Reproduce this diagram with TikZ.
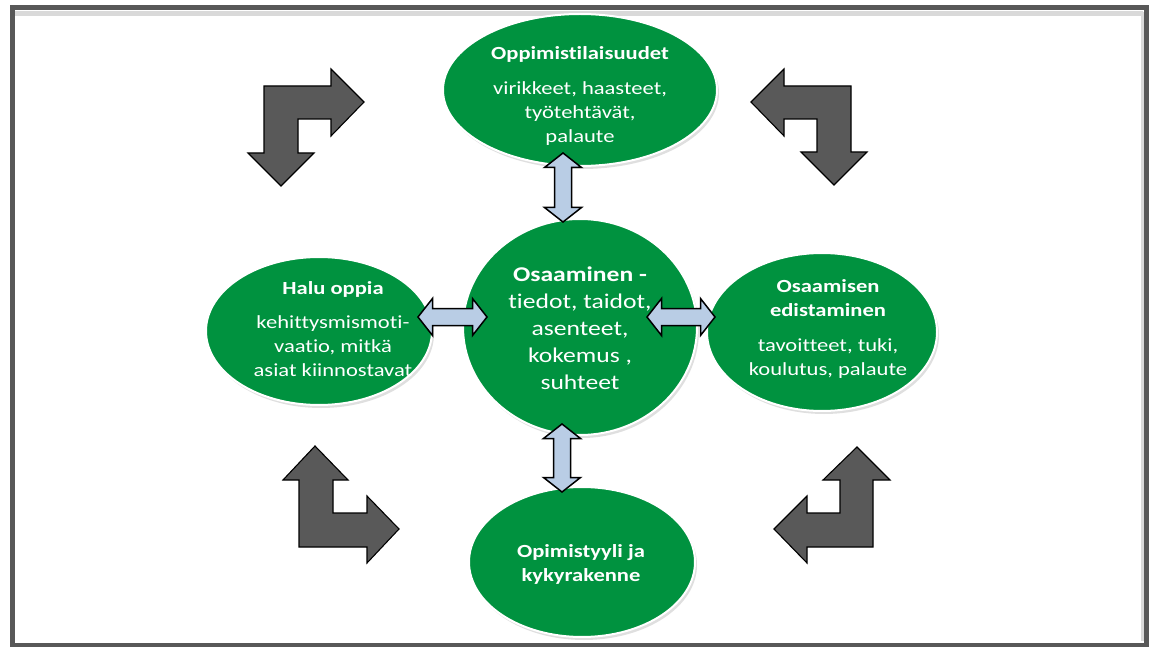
\documentclass[tikz,border=0pt]{standalone}
\usepackage{fontspec}
\setmainfont{Carlito}[FakeStretch=1.22, Ligatures={NoCommon}]
\usetikzlibrary{shapes.geometric,shadows}
\definecolor{bubblegreen}{RGB}{0,146,63}
\definecolor{arrowgray}{RGB}{89,89,89}
\definecolor{framegray}{RGB}{88,88,88}
\definecolor{lightblue}{RGB}{185,205,229}
\tikzset{
  bubble/.style={ellipse, fill=bubblegreen, draw=white, line width=2pt, inner sep=0pt,
    drop shadow={opacity=0.25, shadow xshift=2pt, shadow yshift=-3pt}},
  bubbletext/.style={text=white, align=center, inner sep=0pt,
    font=\fontsize{18.5}{24}\selectfont},
  bigtext/.style={text=white, align=center, inner sep=0pt,
    font=\fontsize{21}{27}\selectfont},
  bentarrow/.style={fill=arrowgray, draw=black, line width=1.1pt, line join=miter},
  blockblue/.style={fill=lightblue, draw=black, line width=1.5pt, line join=miter},
}
\newcommand\vdblarrow[3]{% x, ytop, ybottom
  \draw[blockblue] (#1,#2) -- (#1+18.5,#2+14.5) -- (#1+8.5,#2+14.5) -- (#1+8.5,#3-14.5)
    -- (#1+18.5,#3-14.5) -- (#1,#3) -- (#1-18.5,#3-14.5) -- (#1-8.5,#3-14.5)
    -- (#1-8.5,#2+14.5) -- (#1-18.5,#2+14.5) -- cycle;}
\newcommand\hdblarrow[3]{% y, xleft, xright
  \draw[blockblue] (#2,#1) -- (#2+14.5,#1-18.5) -- (#2+14.5,#1-8.5) -- (#3-14.5,#1-8.5)
    -- (#3-14.5,#1-18.5) -- (#3,#1) -- (#3-14.5,#1+18.5) -- (#3-14.5,#1+8.5)
    -- (#2+14.5,#1+8.5) -- (#2+14.5,#1+18.5) -- cycle;}
\begin{document}
\begin{tikzpicture}[x=1pt,y=-1pt]
\useasboundingbox (0,0) rectangle (1157,647);
\fill[white] (0,0) rectangle (1157,647);
% frame
\draw[gray!30, line width=5pt] (14,14) -- (1143,14);
\draw[gray!30, line width=3pt] (1142,12) -- (1142,641);
\draw[framegray, line width=5pt] (12,8) rectangle (1146.5,645);

% bubbles
\node[bubble, minimum width=274pt, minimum height=152pt] (top) at (580,90) {};
\node[bubble, minimum width=234pt, minimum height=216pt] (mid) at (580,327) {};
\node[bubble, minimum width=226pt, minimum height=148pt] (left) at (319,331) {};
\node[bubble, minimum width=230pt, minimum height=158pt] (right) at (822,332) {};
\node[bubble, minimum width=226pt, minimum height=150pt] (bottom) at (582,562) {};

\node[bubbletext] (toptext) at (580,96) {\textbf{Oppimistilaisuudet}\\[11pt]virikkeet, haasteet,\\ työtehtävät,\\ palaute};
\node[bigtext] (midtext) at (580,328) {\textbf{Osaaminen -}\\ tiedot, taidot,\\ asenteet,\\ kokemus ,\\ suhteet};
\node[bubbletext] (lefttext) at (333,329) {\textbf{Halu oppia}\\[10pt]kehittysmismoti-\\ vaatio, mitkä\\ asiat kiinnostavat};
\node[bubbletext] (righttext) at (828,329) {\textbf{Osaamisen}\\ \textbf{edistaminen}\\[11pt]tavoitteet, tuki,\\ koulutus, palaute};
\node[bubbletext] (bottomtext) at (581,564) {\textbf{Opimistyyli ja}\\ \textbf{kykyrakenne}};

% blue double arrows
\vdblarrow{563}{153}{222}
\vdblarrow{562}{424}{492}
\hdblarrow{317}{418}{487}
\hdblarrow{317}{647}{715}

% dark bent arrows
\draw[bentarrow] (364,102) -- (331,69) -- (331,86) -- (264,86) -- (264,153) -- (248,153)
  -- (281,186) -- (314,153) -- (298,153) -- (298,119) -- (331,119) -- (331,136) -- cycle;
\draw[bentarrow] (751,102) -- (784,69) -- (784,86) -- (851,86) -- (851,152) -- (867,152)
  -- (834,185) -- (801,152) -- (817,152) -- (817,119) -- (784,119) -- (784,136) -- cycle;
\draw[bentarrow] (315,446) -- (348,480) -- (333,480) -- (333,513) -- (367,513) -- (367,496)
  -- (399,529) -- (367,563) -- (367,547) -- (299,547) -- (299,480) -- (283,480) -- cycle;
\draw[bentarrow] (857,447) -- (890,480) -- (873,480) -- (873,547) -- (807,547) -- (807,563)
  -- (774,529) -- (807,496) -- (807,513) -- (840,513) -- (840,480) -- (823,480) -- cycle;
\end{tikzpicture}
\end{document}
